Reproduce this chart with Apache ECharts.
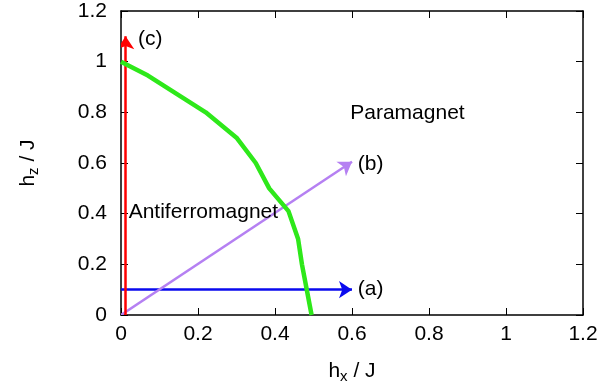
<!DOCTYPE html>
<html><head><meta charset="utf-8">
<script src="https://cdn.jsdelivr.net/npm/echarts@6/dist/echarts.min.js"></script>
<style>html,body{margin:0;padding:0;background:#fff}#c{width:602px;height:389px}</style>
</head><body><div id="c"></div>
<script>
const boundaryHx = [0, 0.07, 0.22, 0.30, 0.35, 0.385, 0.435, 0.46, 0.47, 0.495];
const boundaryHz = [1.0, 0.945, 0.80, 0.70, 0.60, 0.50, 0.41, 0.30, 0.20, 0.0];
const arrowA = [[0, 0.1], [0.6, 0.1]];
const arrowB = [[0, 0], [0.6, 0.605]];
const arrowC = [[0.012, 0], [0.012, 1.1]];
const pathLabels = [
  {text: '(a)', pos: [0.615, 0.1]},
  {text: '(b)', pos: [0.615, 0.595]},
  {text: '(c)', pos: [0.044, 1.09]}
];
const phaseLabels = [
  {text: 'Paramagnet', pos: [0.744, 0.796]},
  {text: 'Antiferromagnet', pos: [0.214, 0.404]}
];

const font = 'Liberation Sans, Arial, Helvetica, sans-serif';
const FS = 21;
const chart = echarts.init(document.getElementById('c'));
const fmt = v => String(Math.round(v * 10) / 10);
const axisCommon = {
  min: 0, max: 1.2, interval: 0.2,
  axisLine: {show: true, onZero: false, lineStyle: {color: '#000', width: 1.5}},
  axisTick: {show: true, inside: true, length: 7, lineStyle: {color: '#000', width: 1}},
  splitLine: {show: false}
};
const rich = {sub: {fontSize: 15, padding: [10, 0, 0, 0], fontFamily: font, color: '#000'}};
const labelStyle = {fontSize: FS, color: '#000', fontFamily: font};
chart.setOption({
  animation: false,
  grid: {left: 121, right: 19, top: 11, bottom: 73, containLabel: false},
  xAxis: [
    Object.assign({}, axisCommon, {type: 'value', position: 'bottom',
      axisLabel: Object.assign({margin: 9, formatter: fmt}, labelStyle),
      name: 'h{sub|x} / J', nameLocation: 'middle', nameGap: 44,
      nameTextStyle: Object.assign({rich: rich}, labelStyle)}),
    Object.assign({}, axisCommon, {type: 'value', position: 'top', axisLabel: {show: false}})
  ],
  yAxis: [
    Object.assign({}, axisCommon, {type: 'value', position: 'left',
      axisLabel: Object.assign({margin: 14, formatter: fmt}, labelStyle),
      name: 'h{sub|z} / J', nameLocation: 'middle', nameGap: 80, nameRotate: 90,
      nameTextStyle: Object.assign({rich: rich}, labelStyle)}),
    Object.assign({}, axisCommon, {type: 'value', position: 'right', axisLabel: {show: false}})
  ],
  series: [
    {type: 'line', data: boundaryHx.map((x, i) => [x, boundaryHz[i]]), symbol: 'none',
     lineStyle: {color: '#2ee81a', width: 4.5}, z: 5},
    {type: 'lines', coordinateSystem: 'cartesian2d', symbol: ['none', 'arrow'], symbolSize: [9, 13],
     data: [
       {coords: arrowA, lineStyle: {color: '#0a0aee', width: 2.5, opacity: 1}},
       {coords: arrowB, lineStyle: {color: '#b580f2', width: 2.5, opacity: 1}},
       {coords: arrowC, lineStyle: {color: '#ff0000', width: 2.5, opacity: 1}}
     ], z: 4},
    {type: 'scatter', symbolSize: 0, itemStyle: {opacity: 1, color: 'transparent'},
     data: pathLabels.map(l => ({value: l.pos, name: l.text})),
     label: Object.assign({show: true, position: 'right', distance: 0, formatter: p => p.name}, labelStyle), z: 6},
    {type: 'scatter', symbolSize: 0, itemStyle: {opacity: 1, color: 'transparent'},
     data: phaseLabels.map(l => ({value: l.pos, name: l.text})),
     label: Object.assign({show: true, position: 'inside', formatter: p => p.name}, labelStyle), z: 6}
  ]
});
</script></body></html>
